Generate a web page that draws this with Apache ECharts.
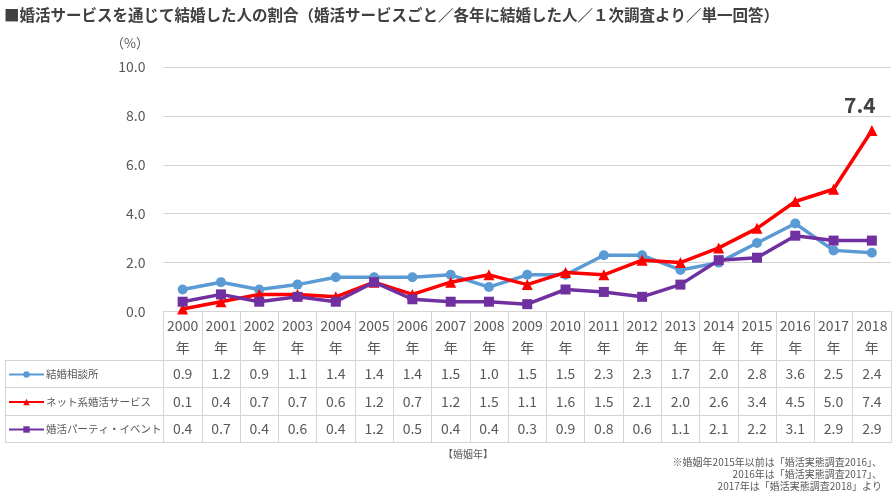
<!DOCTYPE html>
<html><head><meta charset="utf-8">
<script src="https://cdn.jsdelivr.net/npm/echarts@6/dist/echarts.min.js"></script>
<style>html,body{margin:0;padding:0;background:#fff}#c{width:894px;height:494px}</style>
</head><body><div id="c"></div>
<script>
const years = ['2000','2001','2002','2003','2004','2005','2006','2007','2008','2009','2010','2011','2012','2013','2014','2015','2016','2017','2018'];
const seriesNames = ['結婚相談所','ネット系婚活サービス','婚活パーティ・イベント'];
const soudansho = [0.9,1.2,0.9,1.1,1.4,1.4,1.4,1.5,1.0,1.5,1.5,2.3,2.3,1.7,2.0,2.8,3.6,2.5,2.4];
const netService = [0.1,0.4,0.7,0.7,0.6,1.2,0.7,1.2,1.5,1.1,1.6,1.5,2.1,2.0,2.6,3.4,4.5,5.0,7.4];
const party = [0.4,0.7,0.4,0.6,0.4,1.2,0.5,0.4,0.4,0.3,0.9,0.8,0.6,1.1,2.1,2.2,3.1,2.9,2.9];
const yTicks = [0,2,4,6,8,10];

const FONT = 'Noto Sans CJK JP';
const GRAY = '#595959';
const LINE = '#d4d4d4';
const colors = ['#5B9BD5','#FF0000','#7030A0'];
const dataSets = [soudansho, netService, party];

const gridTop = 67, gridBottom = 182.5;
const headerH = 48.5, rowH = 27.5;

const chart = echarts.init(document.getElementById('c'));

function rowAxis(gridIndex, offset, data, withTicks, showLabels) {
  return {
    type: 'category', gridIndex, position: 'bottom', offset,
    data, boundaryGap: true,
    axisLine: {show: true, onZero: false, lineStyle: {color: LINE, width: 1}},
    axisTick: {show: withTicks, length: rowH, alignWithLabel: false, lineStyle: {color: LINE}},
    axisLabel: {show: showLabels, interval: 0, margin: 7, color: GRAY, fontSize: 14, fontFamily: FONT, lineHeight: 14},
    splitLine: {show: false}
  };
}

const xAxes = [
  {
    type: 'category', gridIndex: 0, position: 'bottom', data: years, boundaryGap: true,
    axisLine: {show: true, onZero: false, lineStyle: {color: LINE}},
    axisTick: {show: true, length: headerH, alignWithLabel: false, lineStyle: {color: LINE}},
    axisLabel: {interval: 0, margin: 3, color: GRAY, fontSize: 14, fontFamily: FONT, lineHeight: 22,
      formatter: v => v + '\n年'},
    splitLine: {show: false}
  }
];
dataSets.forEach((d, i) => {
  xAxes.push(rowAxis(0, headerH + rowH * i, d.map(v => v.toFixed(1)), true, true));
});
xAxes.push(rowAxis(0, headerH + rowH * 3, years.map(() => ''), false, false));
// left legend column
[0,1,2].forEach(i => xAxes.push(rowAxis(1, headerH + rowH * i, [''], true, false)));
xAxes.push(rowAxis(1, headerH + rowH * 3, [''], false, false));

const symbols = ['circle','triangle','rect'];
const symbolSizes = [10, 11, 10];

const option = {
  backgroundColor: '#fff',
  animation: false,
  textStyle: {fontFamily: FONT},
  title: [
    {text: '■婚活サービスを通じて結婚した人の割合（婚活サービスごと／各年に結婚した人／１次調査より／単一回答）',
     left: 4, top: 7, padding: 0, textStyle: {fontSize: 15.5, fontWeight: 'bold', color: '#404040', fontFamily: FONT}},
    {text: '（%）', left: 111, top: 37, padding: 0, textStyle: {fontSize: 13, fontWeight: 'normal', color: GRAY, fontFamily: FONT}}
  ],
  graphic: [
    {type: 'text', left: 443, top: 449, style: {text: '【婚姻年】', fontSize: 10, fill: GRAY, fontFamily: FONT}},
    {type: 'text', right: 12, top: 456,
     style: {text: '※婚姻年2015年以前は「婚活実態調査2016」、\n2016年は「婚活実態調査2017」、\n2017年は「婚活実態調査2018」より',
       textAlign: 'right', fontSize: 10, lineHeight: 12, fill: GRAY, fontFamily: FONT}}
  ],
  legend: {
    orient: 'vertical', left: 8, top: 367.5, padding: 0, itemWidth: 35, itemHeight: 8, itemGap: 13.5,
    textStyle: {color: GRAY, fontSize: 10.5, fontFamily: FONT, lineHeight: 14, padding: [0, 0, 0, -3]},
    data: seriesNames
  },
  grid: [
    {left: 163.5, right: 3, top: gridTop, bottom: gridBottom},
    {left: 5, width: 158.5, top: gridTop, bottom: gridBottom}
  ],
  xAxis: xAxes,
  yAxis: [
    {type: 'value', gridIndex: 0, min: 0, max: 10, interval: 2,
     axisLine: {show: false}, axisTick: {show: false},
     axisLabel: {margin: 18, color: GRAY, fontSize: 14, fontFamily: FONT, formatter: v => v.toFixed(1)},
     splitLine: {lineStyle: {color: LINE}}},
    {type: 'value', gridIndex: 1, min: 0, max: 10, show: false}
  ],
  series: seriesNames.map((name, i) => ({
    name, type: 'line', xAxisIndex: 0, yAxisIndex: 0, data: dataSets[i],
    symbol: symbols[i], symbolSize: symbolSizes[i],
    lineStyle: {color: colors[i], width: 3.5},
    itemStyle: {color: colors[i]},
    z: i === 1 ? 3 : (i === 2 ? 4 : 2),
    label: {show: false}
  }))
};
// label on the last point of the net series
option.series[1].data = netService.map((v, idx) => idx === netService.length - 1 ?
  {value: v, label: {show: true, position: 'top', distance: 10, offset: [-12, 0], formatter: p => p.value.toFixed(1),
    fontSize: 21, fontWeight: 'bold', color: '#404040', fontFamily: FONT}} : v);

chart.setOption(option);
</script></body></html>
